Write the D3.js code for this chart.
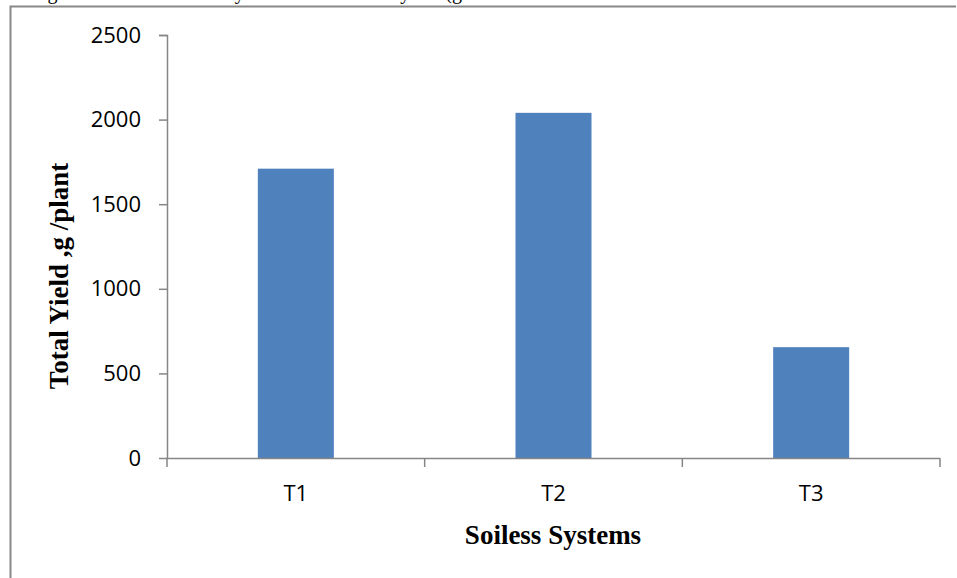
<!DOCTYPE html>
<html>
<head>
<meta charset="utf-8">
<script src="https://cdn.jsdelivr.net/npm/d3@7/dist/d3.min.js"></script>
<style>
html,body{margin:0;padding:0;background:#fff;}
svg{display:block;}
</style>
</head>
<body>
<script>
const categories = ["T1", "T2", "T3"];
const values = [1710, 2040, 655];
const yTicks = [0, 500, 1000, 1500, 2000, 2500];
const xTitle = "Soiless Systems";
const yTitle = "Total Yield ,g /plant";
const captionText = "Fig. 4: Effect of soilless systems on total fruit yield (g";

(function () {
const W = 957, H = 578;
const svg = d3.select("body").append("svg").attr("width", W).attr("height", H);

// clipped caption from the page above
svg.append("text").attr("x", 462).attr("y", -1).attr("text-anchor", "end")
  .attr("font-family", "Liberation Serif").attr("font-size", 20).attr("fill", "#000")
  .text(captionText);

// outer frame
svg.append("path")
  .attr("d", `M10.5,${H} L10.5,6.5 L956,6.5`)
  .attr("fill", "none").attr("stroke", "#888").attr("stroke-width", 2);

const mLeft = 167, mRight = 940, mTop = 35, mBottom = 458;
const x = d3.scaleBand().domain(categories).range([mLeft, mRight]).paddingInner(0.705).paddingOuter(0.3525);
const y = d3.scaleLinear().domain([0, 2500]).range([mBottom, mTop]);

// bars
svg.selectAll("rect.bar").data(categories).enter().append("rect")
  .attr("class", "bar")
  .attr("x", d => x(d))
  .attr("width", x.bandwidth())
  .attr("y", (d, i) => y(values[i]))
  .attr("height", (d, i) => mBottom - y(values[i]))
  .attr("fill", "#4f81bd");

const tickFont = "Open Sans, Liberation Sans, sans-serif";

// y axis
const yAxis = d3.axisLeft(y).tickValues(yTicks).tickSize(8).tickPadding(18).tickFormat(d3.format("d"));
const gy = svg.append("g").attr("transform", `translate(${mLeft},0)`).call(yAxis);
gy.select(".domain").attr("d", `M-8,${mTop}.5H0.5V${mBottom}`);
gy.selectAll("path,line").attr("stroke", "#868686").attr("stroke-width", 1.5);
gy.selectAll("text").attr("font-family", tickFont).attr("font-size", 22).attr("fill", "#000");

// x axis
const gx = svg.append("g").attr("transform", `translate(0,${mBottom})`);
gx.append("line").attr("x1", mLeft - 0.75).attr("x2", mRight).attr("y1", 0.5).attr("y2", 0.5)
  .attr("stroke", "#868686").attr("stroke-width", 1.5);
const boundaries = [mLeft, ...categories.map(c => x(c) + x.bandwidth() + x.step() * x.paddingInner() / 2)];
boundaries[boundaries.length - 1] = mRight;
gx.selectAll("line.tk").data(boundaries).enter().append("line")
  .attr("class", "tk").attr("x1", d => d).attr("x2", d => d).attr("y1", 0).attr("y2", 9)
  .attr("stroke", "#868686").attr("stroke-width", 1.5);
gx.selectAll("text").data(categories).enter().append("text")
  .attr("x", d => x(d) + x.bandwidth() / 2).attr("y", 43)
  .attr("text-anchor", "middle")
  .attr("font-family", tickFont).attr("font-size", 22).attr("fill", "#000")
  .text(d => d);

// axis titles
svg.append("text").attr("x", 553).attr("y", 544).attr("text-anchor", "middle")
  .attr("font-family", "Liberation Serif").attr("font-weight", "bold").attr("font-size", 27)
  .text(xTitle);
svg.append("text").attr("transform", "translate(68,276) rotate(-90)").attr("text-anchor", "middle")
  .attr("font-family", "Liberation Serif").attr("font-weight", "bold").attr("font-size", 27)
  .text(yTitle);
})();
</script>
</body>
</html>
